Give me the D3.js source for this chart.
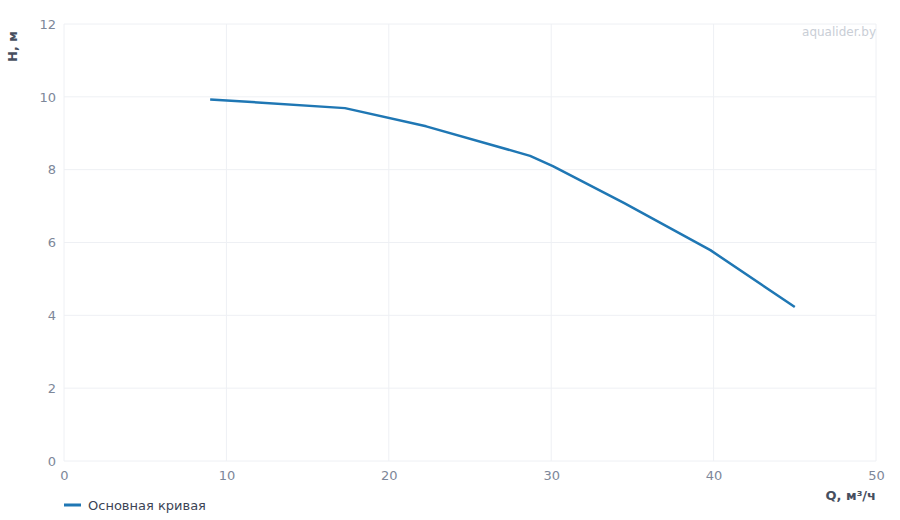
<!DOCTYPE html>
<html>
<head>
<meta charset="utf-8">
<script src="https://cdn.jsdelivr.net/npm/d3@7"></script>
<style>
  body { margin: 0; background: #fff; font-family: "DejaVu Sans", sans-serif; }
  .grid line { stroke: #eef0f4; stroke-width: 1; }
  .tick text { fill: #7d8799; font-size: 13px; }
</style>
</head>
<body>
<div id="chart"></div>
<script>
const width = 900;
const height = 520;
const margin = { top: 24, right: 24, bottom: 59, left: 64 };

// pump curve Q (m3/h) vs H (m)
const flowValues = [9.0, 17.3, 22.3, 28.7, 30.1, 34.5, 39.8, 45.0];
const headValues = [9.93, 9.69, 9.19, 8.38, 8.1, 7.08, 5.79, 4.23];
const xTicks = [0, 10, 20, 30, 40, 50];
const yTicks = [0, 2, 4, 6, 8, 10, 12];
const seriesName = "Основная кривая";

const innerW = width - margin.left - margin.right;
const innerH = height - margin.top - margin.bottom;

const svg = d3.select("#chart")
  .append("svg")
  .attr("width", width)
  .attr("height", height)
  .append("g")
  .attr("transform", `translate(${margin.left},${margin.top})`);

const x = d3.scaleLinear().domain([0, 50]).range([0, innerW]);
const y = d3.scaleLinear().domain([0, 12]).range([innerH, 0]);

// grid
svg.append("g")
  .attr("class", "grid")
  .selectAll("line")
  .data(xTicks)
  .join("line")
  .attr("x1", d => x(d)).attr("x2", d => x(d))
  .attr("y1", 0).attr("y2", innerH);

svg.append("g")
  .attr("class", "grid")
  .selectAll("line")
  .data(yTicks)
  .join("line")
  .attr("x1", 0).attr("x2", innerW)
  .attr("y1", d => y(d)).attr("y2", d => y(d));

// axes
svg.append("g")
  .attr("transform", `translate(0,${innerH})`)
  .call(d3.axisBottom(x).tickValues(xTicks).tickSize(0).tickPadding(10))
  .call(g => g.select(".domain").remove())
  .selectAll("text").style("font-family", "DejaVu Sans");

svg.append("g")
  .call(d3.axisLeft(y).tickValues(yTicks).tickSize(0).tickPadding(8))
  .call(g => g.select(".domain").remove())
  .selectAll("text").style("font-family", "DejaVu Sans");

// axis titles
svg.append("text")
  .attr("transform", `translate(${12 - margin.left},${7}) rotate(-90)`)
  .attr("text-anchor", "end")
  .attr("dy", "0.35em")
  .style("font-size", "13px")
  .style("font-weight", "bold")
  .style("fill", "#474f5f")
  .text("H, м");

svg.append("text")
  .attr("x", innerW)
  .attr("y", innerH + 39)
  .attr("text-anchor", "end")
  .style("font-size", "13px")
  .style("font-weight", "bold")
  .style("fill", "#474f5f")
  .text("Q, м³/ч");

// watermark
svg.append("text")
  .attr("x", innerW)
  .attr("y", 12)
  .attr("text-anchor", "end")
  .style("font-size", "12px")
  .style("fill", "#c9ced6")
  .text("aqualider.by");

// curve
const pts = flowValues.map((q, i) => ({ q: q, h: headValues[i] }));
const line = d3.line()
  .x(d => x(d.q))
  .y(d => y(d.h));

svg.append("path")
  .datum(pts)
  .attr("fill", "none")
  .attr("stroke", "#1f77b4")
  .attr("stroke-width", 2.5)
  .attr("stroke-linejoin", "round")
  .attr("d", line);

// legend
svg.append("line")
  .attr("x1", 0).attr("x2", 17)
  .attr("y1", innerH + 44).attr("y2", innerH + 44)
  .attr("stroke", "#1f77b4")
  .attr("stroke-width", 3);
svg.append("text")
  .attr("x", 24)
  .attr("y", innerH + 44)
  .attr("dy", "0.35em")
  .style("font-size", "13px")
  .style("fill", "#3c4455")
  .text(seriesName);
</script>
</body>
</html>
